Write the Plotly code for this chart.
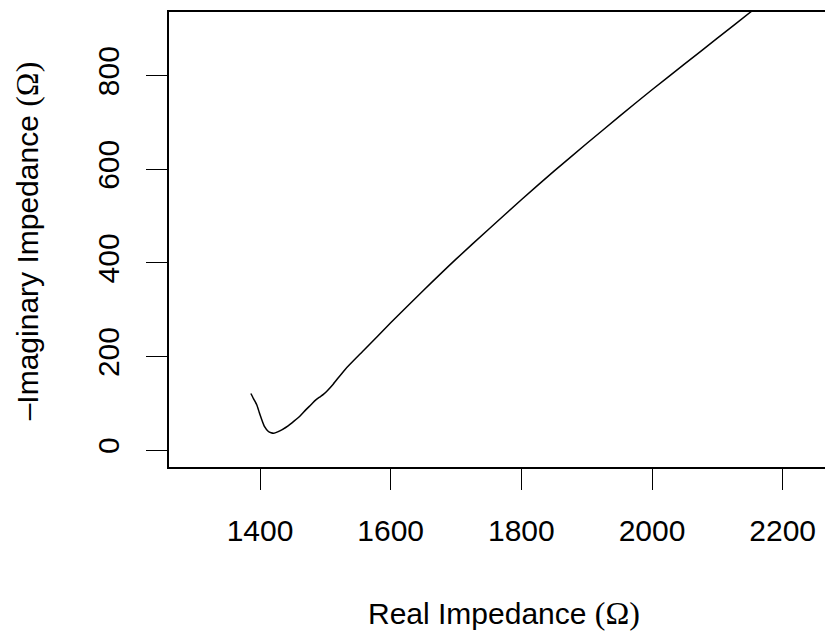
import plotly.graph_objects as go

# Nyquist curve (ohms)
real_z = [1386, 1390, 1395, 1399, 1403, 1407, 1412, 1417, 1421, 1427, 1434, 1443,
          1452, 1462, 1470, 1478, 1485, 1492, 1497, 1503, 1512, 1530, 1560, 1600,
          1650, 1700, 1750, 1800, 1850, 1900, 1950, 2000, 2050, 2100, 2150, 2200]
neg_imag_z = [121, 110, 97, 80, 64, 50, 41, 37, 36, 39, 44, 52,
              62, 74, 86, 97, 107, 114, 119, 127, 141, 172, 215, 272,
              341, 408, 472, 535, 596, 655, 713, 770, 825, 880, 935, 990]

x_ticks = [1400, 1600, 1800, 2000, 2200]
y_ticks = [0, 200, 400, 600, 800]

font = dict(family="Liberation Sans, Arial, sans-serif", size=30, color="black")

fig = go.Figure()
fig.add_trace(go.Scatter(
    x=real_z, y=neg_imag_z, mode="lines",
    line=dict(color="black", width=1.5, shape="spline", smoothing=0.6),
    showlegend=False, hoverinfo="skip"
))

# the page body has an 8px margin, so the figure is drawn 8px smaller
fig.update_layout(
    width=825, height=628,
    margin=dict(l=161, r=0, t=4, b=169),
    plot_bgcolor="white", paper_bgcolor="white",
    font=font,
    xaxis=dict(
        range=[1260.7, 2277], tickvals=x_ticks, ticks="outside", ticklen=21,
        tickwidth=1.3, tickcolor="black", showline=True, linecolor="black",
        linewidth=1.5, mirror=True, showgrid=False, zeroline=False,
        tickfont=font, ticklabelstandoff=15
    ),
    yaxis=dict(
        range=[-36, 936], tickvals=y_ticks, ticks="outside", ticklen=21,
        tickwidth=1.3, tickcolor="black", showline=True, linecolor="black",
        linewidth=1.5, mirror=False, showgrid=False, zeroline=False,
        tickangle=-90, tickfont=font, ticklabelstandoff=15
    ),
    annotations=[
        dict(text="Real Impedance <span style='font-family:Liberation Serif;font-size:32px'>(Ω)</span>",
             xref="paper", yref="paper", x=0.5045, y=-0.3207,
             xanchor="center", yanchor="middle", showarrow=False, font=font),
        dict(text="\u2013Imaginary Impedance <span style='font-family:Liberation Serif;font-size:32px'>(Ω)</span>",
             xref="paper", yref="paper", x=(19 - 161) / 664, y=0.496,
             xanchor="center", yanchor="middle", textangle=-90,
             showarrow=False, font=font),
    ],
)

fig.write_html("out.html")
